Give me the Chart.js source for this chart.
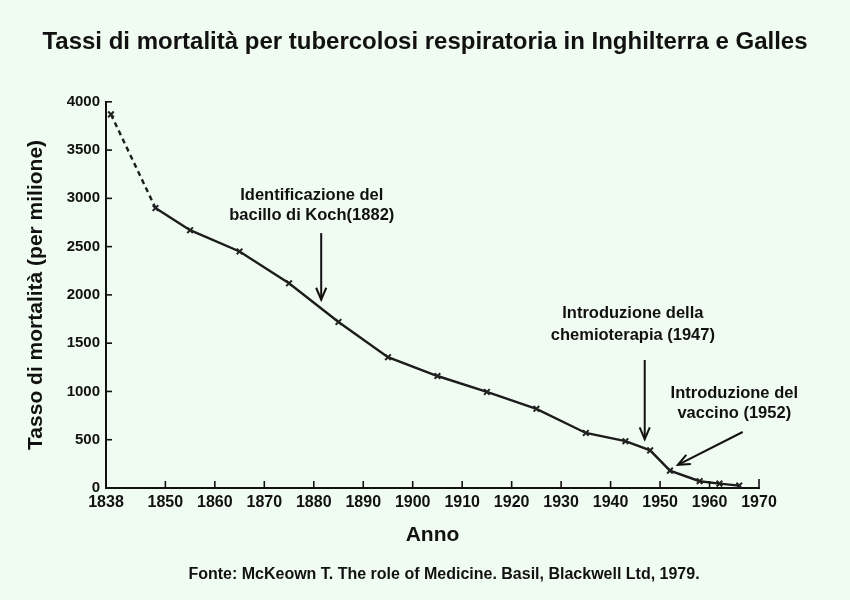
<!DOCTYPE html>
<html><head><meta charset="utf-8">
<script src="https://cdn.jsdelivr.net/npm/chart.js@4/dist/chart.umd.min.js"></script>
<style>html,body{margin:0;padding:0;background:#f0fcf2;}#wrap{width:850px;height:600px;}</style>
</head><body><div id="wrap"><canvas id="c" width="850" height="600"></canvas></div>
<script>
const years = [1839,1848,1855,1865,1875,1885,1895,1905,1915,1925,1935,1943,1948,1952,1958,1962,1966];
const rates = [3870,2900,2670,2450,2120,1720,1355,1160,995,820,570,485,390,180,70,45,25];
const xTickYears = [1838,1850,1860,1870,1880,1890,1900,1910,1920,1930,1940,1950,1960,1970];
const yTickValues = [0,500,1000,1500,2000,2500,3000,3500,4000];
const titleText = "Tassi di mortalità per tubercolosi respiratoria in Inghilterra e Galles";
const yTitle = "Tasso di mortalità (per milione)";
const xTitle = "Anno";
const sourceText = "Fonte: McKeown T. The role of Medicine. Basil, Blackwell Ltd, 1979.";
const noteLines = [["Identificazione del","bacillo di Koch(1882)"],["Introduzione della","chemioterapia (1947)"],["Introduzione del","vaccino (1952)"]];
const noteYears = [1879.6, 1944.5, 1965.0];
const noteValues = [[3026,2819],[1813,1585],[984,777]];
const arrowFrom = [[1881.5,2640],[1946.9,1326],[1966.7,580]];
const arrowTo = [[1881.5,1950],[1946.9,505],[1953.6,240]];
const FONT = '"Liberation Sans", Arial, sans-serif';

const overlay = {
  id:'overlay',
  afterDatasetsDraw(chart){
    const ctx = chart.ctx, xs = chart.scales.x, ys = chart.scales.y;
    ctx.save();
    ctx.strokeStyle = '#111'; ctx.lineWidth = 1.6;
    yTickValues.forEach(v => { if (v===0) return; const py = ys.getPixelForValue(v);
      ctx.beginPath(); ctx.moveTo(xs.left, py); ctx.lineTo(xs.left+6, py); ctx.stroke(); });
    xTickYears.forEach(v => { if (v===1838) return; const px = xs.getPixelForValue(v);
      ctx.beginPath(); ctx.moveTo(px, ys.bottom); ctx.lineTo(px, ys.bottom-(v===1970?9:7)); ctx.stroke(); });
    ctx.lineWidth = 2;
    arrowFrom.forEach((f,i) => {
      const x0 = xs.getPixelForValue(f[0]), y0 = ys.getPixelForValue(f[1]);
      const x1 = xs.getPixelForValue(arrowTo[i][0]), y1 = ys.getPixelForValue(arrowTo[i][1]);
      ctx.beginPath(); ctx.moveTo(x0,y0); ctx.lineTo(x1,y1); ctx.stroke();
      const a = Math.atan2(y1-y0, x1-x0), L = 13, s = 0.4;
      ctx.beginPath();
      ctx.moveTo(x1 - L*Math.cos(a-s), y1 - L*Math.sin(a-s));
      ctx.lineTo(x1,y1);
      ctx.lineTo(x1 - L*Math.cos(a+s), y1 - L*Math.sin(a+s));
      ctx.stroke();
    });
    ctx.fillStyle = '#111'; ctx.font = 'bold 16.5px ' + FONT;
    ctx.textAlign = 'center'; ctx.textBaseline = 'middle';
    noteLines.forEach((lines,i) => {
      const px = xs.getPixelForValue(noteYears[i]);
      lines.forEach((t,j) => ctx.fillText(t, px, ys.getPixelForValue(noteValues[i][j])));
    });
    ctx.font = 'bold 16px ' + FONT;
    ctx.fillText(sourceText, 444, 575);
    ctx.restore();
  }
};

new Chart(document.getElementById('c'), {
  type:'line',
  data:{ datasets:[{
    data: years.map((y,i)=>({x:y, y:rates[i]})),
    borderColor:'#1c1c1c', borderWidth:2.4, tension:0,
    pointStyle:'crossRot', pointRadius:4, pointBorderWidth:2, pointBorderColor:'#222', pointBackgroundColor:'#222',
    segment:{ borderDash: c => c.p0DataIndex===0 ? [5,4] : undefined }
  }]},
  options:{
    responsive:false, animation:false, devicePixelRatio:1,
    layout:{padding:0},
    plugins:{
      legend:{display:false}, tooltip:{enabled:false},
      title:{display:true, text:titleText, color:'#111',
        font:{family:FONT, size:24, weight:'bold'},
        padding:{top:28, bottom:45}}
    },
    scales:{
      x:{ type:'linear', min:1838, max:1970,
        afterBuildTicks: s => { s.ticks = xTickYears.map(v=>({value:v})); },
        afterFit: s => { s.height = 112; },
        grid:{display:false, drawTicks:false},
        border:{display:true, color:'#111', width:2},
        ticks:{ callback: v => String(v), autoSkip:false, maxRotation:0, padding:5, color:'#111',
          font:{family:FONT, size:16, weight:'bold'} },
        title:{display:true, text:xTitle, color:'#111', padding:{top:4, bottom:52},
          font:{family:FONT, size:21, weight:'bold'}}
      },
      y:{ type:'linear', min:0, max:4000,
        afterBuildTicks: s => { s.ticks = yTickValues.map(v=>({value:v})); },
        afterFit: s => { s.width = 106; },
        grid:{display:false, drawTicks:false},
        border:{display:true, color:'#111', width:2},
        ticks:{ padding:6, color:'#111', callback: v => String(v),
          font:{family:FONT, size:15, weight:'bold'} },
        title:{display:true, text:yTitle, color:'#111', padding:{top:24, bottom:0},
          font:{family:FONT, size:21, weight:'bold'}}
      },
      y2:{ type:'linear', position:'right', min:0, max:1, display:true,
        afterFit: s => { s.width = 91; },
        grid:{display:false, drawTicks:false}, border:{display:false}, ticks:{display:false} }
    }
  },
  plugins:[overlay]
});
</script></body></html>
